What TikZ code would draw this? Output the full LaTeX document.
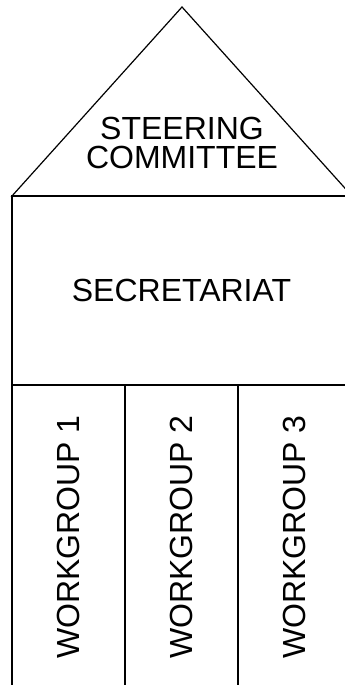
\documentclass[tikz,border=0pt]{standalone}
\usepackage{fontspec}
\setmainfont{Liberation Sans}
\usetikzlibrary{positioning}

\begin{document}
\begin{tikzpicture}[x=1pt,y=-1pt,line width=1.2pt,node distance=0pt,
  every node/.style={font=\fontsize{32}{29}\selectfont},
  orgbox/.style={draw,outer sep=0pt,inner sep=0pt,align=center},
  wgbox/.style={orgbox,minimum width=113pt,minimum height=304pt}]
\useasboundingbox (0,0) rectangle (345,685);
% roof
\coordinate (roofl) at (12,196);
\coordinate (apex) at (182,7);
\coordinate (roofr) at (352,196);
\draw (roofl) -- (apex) -- (roofr) -- cycle;
\node[align=center] (steer) at (182,143) {STEERING\\COMMITTEE};
% body
\node[orgbox,minimum width=339pt,minimum height=189pt,below right=0pt and 0pt of roofl] (sec) {SECRETARIAT};
\node[wgbox,below right=0pt and 0pt of sec.south west] (wg1) {\rotatebox{90}{WORKGROUP 1}};
\node[wgbox,right=of wg1] (wg2) {\rotatebox{90}{WORKGROUP 2}};
\node[wgbox,right=of wg2] (wg3) {\rotatebox{90}{WORKGROUP 3}};
\end{tikzpicture}
\end{document}
